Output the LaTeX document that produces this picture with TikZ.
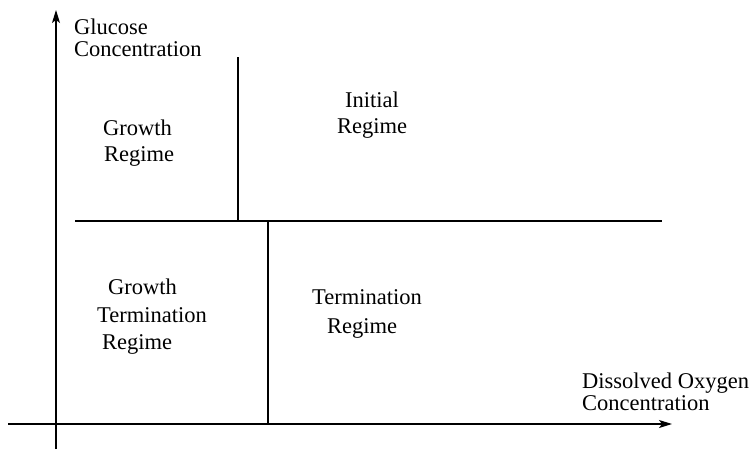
\documentclass[tikz,border=0pt]{standalone}
\usepackage{fontspec}
\setmainfont{Liberation Serif}
\usetikzlibrary{arrows.meta}
\begin{document}
\begin{tikzpicture}[x=1pt,y=-1pt,
  axis/.style={line width=1.3pt,-{Stealth[length=13pt,width=8pt,inset=3pt]}},
  border/.style={line width=1.3pt},
  lbl/.style={anchor=base west,inner sep=0pt,font=\fontsize{22.5}{26}\selectfont}]
\useasboundingbox (0,0) rectangle (749,450);

% axes
\coordinate (yb) at (56,449);
\coordinate (yt) at (56,10);
\coordinate (xl) at (8,424);
\coordinate (xr) at (672,424);
\draw[axis] (yb) -- (yt);
\draw[axis] (xl) -- (xr);

% regime boundaries
\coordinate (hl) at (75,221);
\coordinate (hr) at (662,221);
\coordinate (ut) at (238,57);
\coordinate (ub) at (238,221);
\coordinate (lt) at (268,221);
\coordinate (lb) at (268,424);
\draw[border] (hl) -- (hr);
\draw[border] (ut) -- (ub);
\draw[border] (lt) -- (lb);

% axis titles
\node[lbl] (glu1) at (74,34) {Glucose};
\node[lbl] (glu2) at (74,56) {Concentration};
\node[lbl] (do1) at (582,388) {Dissolved Oxygen};
\node[lbl] (do2) at (582,410) {Concentration};

% regime labels
\node[lbl] (gr1) at (103,135) {Growth};
\node[lbl] (gr2) at (104,161) {Regime};
\node[lbl] (in1) at (345,107) {Initial};
\node[lbl] (in2) at (337,133) {Regime};
\node[lbl] (gt1) at (108,294) {Growth};
\node[lbl] (gt2) at (97,322) {Termination};
\node[lbl] (gt3) at (102,349) {Regime};
\node[lbl] (tr1) at (312,304) {Termination};
\node[lbl] (tr2) at (327,333) {Regime};
\end{tikzpicture}
\end{document}
